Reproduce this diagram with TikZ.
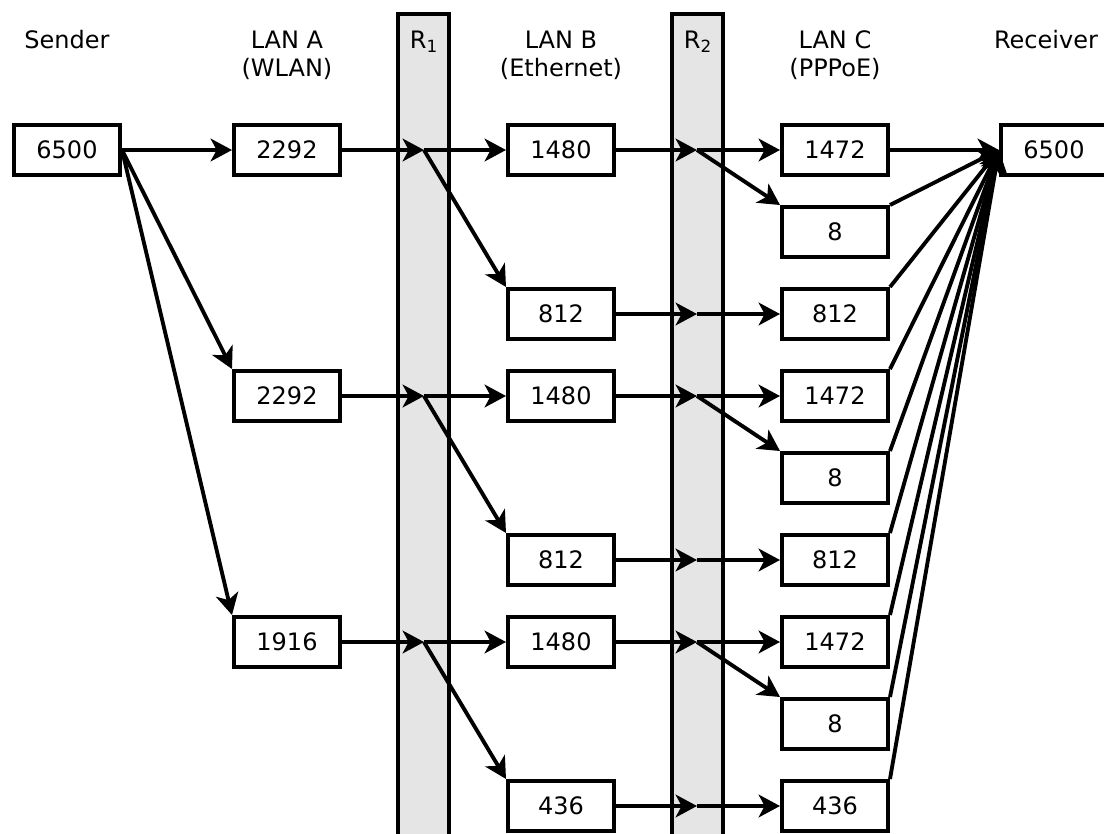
\documentclass[tikz,border=0pt]{standalone}
\usepackage{fontspec}
\setmainfont{DejaVu Sans}
\usetikzlibrary{arrows.meta}

\begin{document}
\begin{tikzpicture}[
  x=0.75pt, y=-0.75pt,
  font=\fontsize{18}{20.5}\selectfont,
  frag/.style={draw, line width=3pt, minimum width=79.5pt, minimum height=37.5pt, inner sep=0pt, fill=white},
  rtr/.style={draw, line width=3.2pt, fill=gray!20, minimum width=38pt, minimum height=664pt, inner sep=0pt},
  lbl/.style={align=center, inner sep=0pt, anchor=base},
  e/.style={-{Stealth[length=16pt, width=17pt, inset=4.5pt]}, line width=2.9pt}
]
\useasboundingbox (0,0) rectangle (1104,833);
\clip (0,0) rectangle (1104,833);

% routers
\node[rtr] (r1) at (423.5,457) {};
\node[rtr] (r2) at (697.5,457) {};

% column titles
\node[lbl] (tsnd) at (67,48) {Sender};
\node[lbl] (tlana) at (287,76) {LAN A\\(WLAN)};
\node[lbl] (tr1) at (424,48) {R\textsubscript{1}};
\node[lbl] (tlanb) at (561,76) {LAN B\\(Ethernet)};
\node[lbl] (tr2) at (698,48) {R\textsubscript{2}};
\node[lbl] (tlanc) at (835,76) {LAN C\\(PPPoE)};
\node[lbl] (trcv) at (1046,48) {Receiver};

% fragments
\node[frag] (snd) at (67,150) {6500};

\node[frag] (a1) at (287,150) {2292};
\node[frag] (a2) at (287,396) {2292};
\node[frag] (a3) at (287,642) {1916};

\node[frag] (b1) at (561,150) {1480};
\node[frag] (b2) at (561,314) {812};
\node[frag] (b3) at (561,396) {1480};
\node[frag] (b4) at (561,560) {812};
\node[frag] (b5) at (561,642) {1480};
\node[frag] (b6) at (561,806) {436};

\node[frag] (c1) at (835,150) {1472};
\node[frag] (c2) at (835,232) {8};
\node[frag] (c3) at (835,314) {812};
\node[frag] (c4) at (835,396) {1472};
\node[frag] (c5) at (835,478) {8};
\node[frag] (c6) at (835,560) {812};
\node[frag] (c7) at (835,642) {1472};
\node[frag] (c8) at (835,724) {8};
\node[frag] (c9) at (835,806) {436};

\node[frag] (rcv) at (1054,150) {6500};

% points inside the routers
\coordinate (p1a) at (424,150);
\coordinate (p1b) at (424,396);
\coordinate (p1c) at (424,642);
\coordinate (p2a) at (697,150);
\coordinate (p2b) at (697,314);
\coordinate (p2c) at (697,396);
\coordinate (p2d) at (697,560);
\coordinate (p2e) at (697,642);
\coordinate (p2f) at (697,806);

% sender -> LAN A
\draw[e] (snd.east) -- (a1);
\draw[e] (snd.east) -- (a2.north west);
\draw[e] (snd.east) -- (a3.north west);

% LAN A -> R1 -> LAN B
\draw[e] (a1) -- (p1a);
\draw[e] (a2) -- (p1b);
\draw[e] (a3) -- (p1c);
\draw[e] (p1a) -- (b1);
\draw[e] (p1a) -- (b2.north west);
\draw[e] (p1b) -- (b3);
\draw[e] (p1b) -- (b4.north west);
\draw[e] (p1c) -- (b5);
\draw[e] (p1c) -- (b6.north west);

% LAN B -> R2 -> LAN C
\draw[e] (b1) -- (p2a);
\draw[e] (b2) -- (p2b);
\draw[e] (b3) -- (p2c);
\draw[e] (b4) -- (p2d);
\draw[e] (b5) -- (p2e);
\draw[e] (b6) -- (p2f);
\draw[e] (p2a) -- (c1);
\draw[e] (p2a) -- (c2.north west);
\draw[e] (p2b) -- (c3);
\draw[e] (p2c) -- (c4);
\draw[e] (p2c) -- (c5.north west);
\draw[e] (p2d) -- (c6);
\draw[e] (p2e) -- (c7);
\draw[e] (p2e) -- (c8.north west);
\draw[e] (p2f) -- (c9);

% LAN C -> receiver
\draw[e] (c1) -- (rcv);
\draw[e] (c2.north east) -- (rcv.west);
\draw[e] (c3.north east) -- (rcv.west);
\draw[e] (c4.north east) -- (rcv.west);
\draw[e] (c5.north east) -- (rcv.west);
\draw[e] (c6.north east) -- (rcv.west);
\draw[e] (c7.north east) -- (rcv.west);
\draw[e] (c8.north east) -- (rcv.west);
\draw[e] (c9.north east) -- (rcv.west);
\end{tikzpicture}
\end{document}
